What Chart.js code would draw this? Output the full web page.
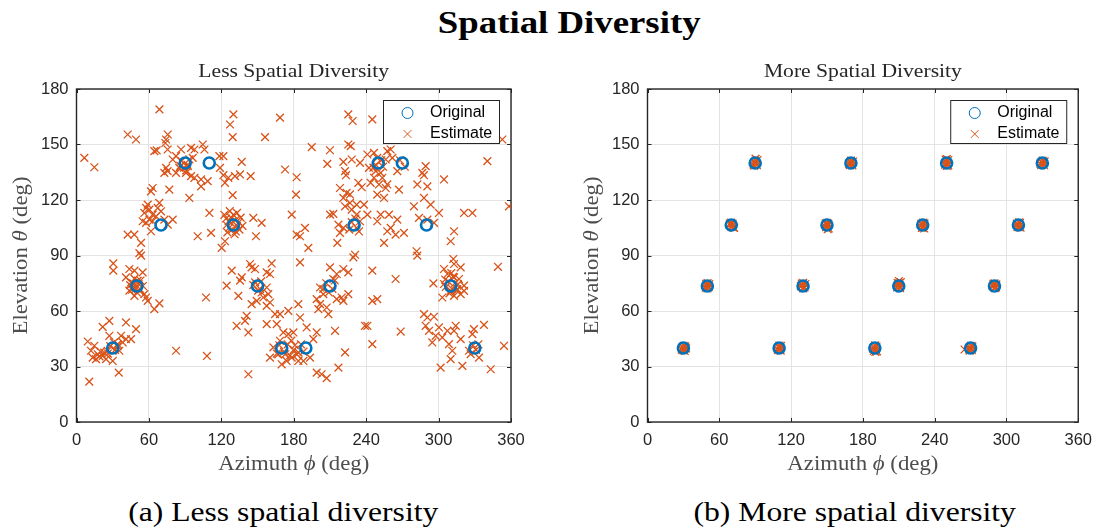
<!DOCTYPE html>
<html>
<head>
<meta charset="utf-8">
<script src="https://cdn.jsdelivr.net/npm/chart.js@4.4.0/dist/chart.umd.min.js"></script>
<style>
  body { margin: 0; background: #fff; width: 1101px; height: 527px; position: relative; overflow: hidden; }
  #title { position: absolute; top: 4px; left: 0; width: 1138px; text-align: center;
           font: bold 32px "Liberation Serif"; color: #000; }
  #title span, .cap span { display: inline-block; }
  #title span { transform: scaleX(1.15); }
  .cap { position: absolute; top: 496px; width: 560px; text-align: center;
         font: 28px "Liberation Serif"; color: #000; }
  .cap span { transform: scaleX(1.13); }
  canvas { position: absolute; top: 60px; }
</style>
</head>
<body>
<div id="title"><span>Spatial Diversity</span></div>
<canvas id="chart_less" width="540" height="420" style="left:0"></canvas>
<canvas id="chart_more" width="530" height="420" style="left:571px"></canvas>
<div class="cap" style="left:3px"><span>(a) Less spatial diversity</span></div>
<div class="cap" style="left:575px"><span>(b) More spatial diversity</span></div>

<script>
// axis ticks (deg)
var azTicks = [0, 60, 120, 180, 240, 300, 360];
var elTicks = [0, 30, 60, 90, 120, 150, 180];

// source directions [azimuth, elevation]
var lessOriginal = [
  [30, 40], [50, 73.5], [70, 106.5], [90, 140], [110, 140], [130, 106.5], [150, 73.5], [170, 40],
  [190, 40], [210, 73.5], [230, 106.5], [250, 140], [270, 140], [290, 106.5], [310, 73.5], [330, 40]
];
var moreOriginal = [
  [30, 40], [50, 73.5], [70, 106.5], [90, 140], [110, 40], [130, 73.5], [150, 106.5], [170, 140],
  [190, 40], [210, 73.5], [230, 106.5], [250, 140], [270, 40], [290, 73.5], [310, 106.5], [330, 140]
];

// estimated directions, closely spaced sources
var lessEstimate = [
  [68.7, 169], [42.4, 155.4], [49.3, 152.7], [6.5, 142.8], [14.8, 137.7], [75.6, 155.4], [74.2, 152.7], [73.6, 150.8],
  [64.5, 146.4], [66.4, 146.8], [75.5, 147.3], [86.6, 147.3], [82.5, 143.7], [79.7, 141.9], [94.9, 148.2], [97.7, 147.3],
  [104.6, 150], [106, 147.3], [96.3, 142.8], [92.1, 138.3], [85.2, 137.4], [74.2, 137.4], [75.5, 135.6], [72.8, 134.7],
  [82.5, 134.7], [90.7, 134.7], [97.7, 132], [94.9, 132.9], [103.2, 131.1], [108.7, 130.2], [103.2, 127.4], [118.4, 143.7],
  [76.9, 125.6], [63.1, 126.5], [61.7, 124.7], [93.5, 121.1], [110.1, 113], [59, 117.5], [57.6, 115.7], [60.4, 114.8],
  [56.2, 113], [63.1, 112.1], [68.6, 118.4], [67.3, 115.7], [70, 113.9], [65.9, 111.2], [60.4, 109.4], [63.1, 108.5],
  [57.6, 107.6], [72.8, 109.4], [79.7, 109.4], [75.6, 106.7], [54.8, 108.5], [61.7, 103.1], [42.4, 101.3], [47.9, 101.3],
  [53.5, 96.8], [100.4, 100.4], [111.5, 102.2], [52.1, 91.3],
  [87, 141], [92, 139], [89, 137.5], [93.5, 142], [86, 138.5], [91, 136],
  [130, 166.3], [127.2, 160.8], [129.4, 154], [168.6, 164.5], [156.2, 154], [121.7, 143.7], [136.9, 140.6], [118.9, 137.4],
  [121.7, 133.4], [125.8, 132], [131.3, 132.9], [135.5, 133.8], [123, 129.3], [144.3, 132.9], [172.8, 136.5], [182.4, 132.3],
  [181.9, 122.9], [129.4, 122.6], [194.9, 148.6], [210, 146.9], [207.8, 139.5], [225.2, 166.3], [228.8, 162.7], [225.2, 150],
  [227.2, 149.1], [221.1, 140.6], [228, 141.9], [234.9, 140.1], [222.5, 135.6], [223.3, 133.4], [233.5, 129.3], [236.3, 126.9],
  [218.3, 126.5], [223.8, 123.8], [221.1, 121.1], [226.6, 123], [226.6, 118.4], [232.1, 117.5], [222.5, 116.6], [228, 114.8],
  [210.1, 112.1], [212.8, 112.5], [217, 106.7], [221.1, 104.9], [218.3, 102.2], [234.9, 108.5], [232.1, 112.1], [146.5, 110.3],
  [153.4, 107.6], [148.7, 100.4], [123, 97.7], [120.3, 94.1], [178.3, 112.1], [182.4, 101.3], [189.3, 104.9], [185.2, 100.4],
  [192.1, 94.1], [216.1, 96.8], [230.8, 90.4],
  [228, 108], [232, 105], [226, 104], [231, 110], [234, 103],
  [126, 108.5], [128, 110.5], [131.5, 109], [133, 106], [129, 104], [126.5, 105], [132, 103], [134.5, 108],
  [124.5, 106.5], [130, 112], [136, 110.5], [124, 110], [131, 101.5], [128, 107.5], [135, 104], [122.5, 112],
  [127, 114], [133, 113], [137.5, 106], [125, 102.5],
  [245.1, 163.6], [352.8, 152.7], [241, 144.6], [246.5, 145.5], [249.2, 142.8], [257.5, 146.4], [260.3, 147.3], [256.2, 141.9],
  [261.7, 142.8], [242.3, 137.4], [247.9, 135.6], [252, 134.7], [246.5, 132], [253.4, 132], [243.7, 129.3], [250.6, 128.4],
  [257.5, 128.4], [256.2, 126.5], [249.2, 122.9], [254.8, 121.1], [265.8, 135.6], [267.2, 125.6], [289.3, 138.3], [286.5, 134.7],
  [287.9, 133.4], [282.4, 128.4], [290.7, 127.4], [304.5, 131.1], [340.4, 141], [287.9, 121.1], [293.4, 117.5], [279.6, 116.6],
  [300.3, 113], [321.1, 113], [328, 113], [358.3, 116.6], [238.2, 117.5], [241, 112.1], [252, 112.1], [249.2, 108.5],
  [258.9, 112.1], [265.8, 109.4], [260.3, 104.9], [264.4, 101.3], [271.3, 102.2], [257.5, 103.1], [254.8, 96.8], [312.8, 103.1],
  [310, 97.7], [296.2, 107.6], [283.8, 110.3], [290.7, 109.4], [281.8, 92.3],
  [248, 139], [252.5, 141.5], [246, 137.5], [254, 138], [268, 141.5], [272, 138],
  [53.5, 89.9], [30.5, 85.7], [30.5, 81.8], [43.8, 82.7], [48, 81.8], [54.8, 80.9], [41, 78.2], [45.2, 75.5],
  [50.7, 76.4], [46.6, 72.7], [43.8, 71], [52.1, 71], [56.2, 69.1], [48, 68.2], [57.6, 67.3], [59, 65.5],
  [68.7, 64.1], [64.5, 61], [107.3, 67.3], [27.2, 54.7], [21.7, 51.4], [41, 53.8], [49.3, 50.2], [9.3, 43.5],
  [14.8, 41.2], [12, 38.5], [17.6, 36.6], [21.7, 35.7], [25.8, 38.5], [16.2, 34], [13.4, 34.8], [24.5, 34],
  [30, 33], [27.2, 46.6], [36.9, 46.6], [38.3, 43], [41, 44.8], [45.2, 44.8], [34.1, 42.1], [35.5, 38.5],
  [35, 26.7], [10.6, 21.8], [82.5, 38.5], [108.1, 35.7],
  [47, 75], [49, 72], [51.5, 74.5], [53, 76.5], [46, 71.5], [52.5, 72], [48, 77.5], [55, 73.5], [44.5, 74], [50, 70],
  [28, 41], [32, 39], [26, 37], [31, 43], [34, 41], [23, 37.5], [19, 35.5], [20, 38],
  [128.6, 81.8], [145.1, 83.6], [147.9, 82.7], [143.8, 85.4], [161.7, 85.7], [157.6, 80.9], [160.3, 80], [136.9, 78.2],
  [135.5, 76.4], [124.4, 73.7], [157.6, 72.7], [158.9, 69.1], [153.4, 70], [154.8, 67.3], [149.3, 65.5], [145.1, 63.7],
  [160.3, 64.6], [157.6, 62.8], [134.1, 68.2], [141, 57.4], [139.6, 54.7], [132.7, 52], [142.4, 48.4], [164.5, 58.3],
  [168.6, 58.3], [175.5, 60.1], [157.6, 52.9], [165.9, 52.9], [171.4, 48.4], [175.5, 47.5], [179.7, 48.4], [168.6, 43.9],
  [163.1, 40.3], [160.3, 34.8], [167.2, 36.6], [172.8, 36.6], [174.1, 33], [178.3, 34.8], [182.4, 36.6], [183.8, 33],
  [188, 33], [193.5, 34.8], [170, 31.2], [183.8, 63.7], [185.2, 56.5], [190.7, 51.1], [199, 48.4], [196.2, 44.8],
  [142.4, 25.8], [199, 26.7], [203.1, 25.8], [207.3, 23.7], [217, 29.4], [222.5, 37.6], [214.2, 49.3], [185.2, 86.3],
  [210, 83.6], [221.1, 82.7], [225.2, 80.9], [215.6, 80], [229.4, 89], [212.8, 77.3], [201.8, 72.7], [204.5, 69.1],
  [199, 66.4], [215.6, 66.4], [219.7, 67.3], [221.1, 65.5], [225.2, 69.1], [200.4, 61], [207.3, 61.9], [208.7, 58.3],
  [201.8, 63.7], [239, 52],
  [148, 75.5], [152, 72], [150.5, 71], [153, 76], [146.5, 74],
  [168, 41.5], [172, 38], [175, 42], [180, 39], [184, 37.5], [178, 44], [186, 42], [166, 37], [177, 36], [181, 41.5], [188, 38],
  [207, 75], [212, 72], [209, 70], [214, 76.5], [204.5, 72],
  [282.4, 89.9], [312.2, 88.1], [312.8, 85.4], [304.5, 82.7], [318.3, 83.6], [307.3, 80], [312.8, 78.2], [316.9, 77.3],
  [310, 70.9], [315.5, 71.8], [321.1, 73.7], [321.1, 70.9], [304.5, 74.6], [318.3, 69.1], [312.8, 68.2], [303.1, 67.3],
  [295.7, 74.9], [349.2, 83.9], [245.1, 81.8], [264.4, 77.3], [245.1, 65.5], [249.2, 66.4], [241, 52], [268.6, 48.9],
  [245.1, 42.1], [287.9, 58.3], [290.7, 56.5], [296.2, 56.9], [289.3, 52], [292.1, 49.3], [297.6, 46.6], [300.3, 51.1],
  [303.1, 45.7], [294.8, 43], [307.3, 49.3], [312.8, 49.3], [314.2, 52], [318.3, 44.8], [308.6, 42.1], [311.4, 38.5],
  [310, 34], [301.7, 29.4], [319.7, 30.3], [329.3, 50.2], [328, 47.5], [337.6, 52.5], [326.6, 36.7], [333.5, 34.8],
  [325.2, 38.5], [343.2, 28.5], [354.2, 41.2],
  [308, 76], [311, 72], [313.5, 75], [306, 73], [315, 71], [309, 69.5], [312, 78.5], [316, 74.5], [305.5, 77], [310.5, 80.5],
  [331, 39], [328.5, 41.5], [333, 42]
];

// estimated directions, widely spaced sources
var moreEstimate = [
  [29.4, 40.3], [30.7, 39.6], [31.6, 40.9], [28.6, 39.1], [30.2, 41.2], [31.1, 38.4], [29.8, 38.9], [32.2, 39.8],
  [49.5, 73.8], [50.8, 72.9], [51.7, 74.6], [48.7, 72.6], [50.2, 75.1], [49.1, 74.7], [51.2, 73.2], [50.1, 72.2],
  [69.6, 106.9], [70.9, 106.1], [71.8, 105.2], [68.8, 107.3], [70.3, 105.4], [72.4, 104.9], [69.9, 107.8], [71.1, 107.2],
  [89.5, 140.4], [90.8, 139.5], [91.9, 141.6], [88.6, 139.2], [90.2, 141.2], [89.1, 138.6], [91.4, 138.9], [90.3, 142.4],
  [109.6, 40.4], [110.9, 39.5], [111.6, 41.1], [108.8, 39.2], [110.2, 41.3], [111.3, 38.6], [109.3, 38.8], [110.6, 40.1],
  [129.4, 73.9], [130.7, 73.1], [131.9, 74.6], [128.2, 73.4], [130.2, 72.2], [131.3, 72.7], [128.9, 74.8], [130.1, 75.2],
  [149.6, 106.8], [150.8, 105.9], [151.5, 104.6], [148.9, 107.4], [150.2, 107.6], [151.1, 107.1], [149.3, 105.3], [150.6, 104.2],
  [169.5, 140.3], [170.7, 139.6], [171.8, 140.8], [168.4, 139.7], [170.1, 141.3], [171.2, 138.7], [169.1, 138.8], [170.4, 140],
  [189.6, 40.3], [190.9, 39.4], [191.8, 38.2], [188.7, 39.6], [190.2, 41.4], [191.4, 40.8], [189.1, 38.4], [190.5, 37.9],
  [209.5, 73.8], [210.8, 73.1], [211.7, 75.6], [208.6, 72.7], [210.2, 74.9], [209, 75.1], [211.2, 72.4], [210.1, 76.2],
  [229.6, 106.8], [230.9, 106.1], [231.3, 104.6], [228.9, 107.2], [230.2, 105.2], [229.3, 104.9], [231.5, 107.4], [230.4, 107.8],
  [249.5, 140.4], [250.7, 139.5], [251.4, 141.6], [248.8, 139.1], [250.2, 142.1], [249.2, 141.8], [251.3, 138.7], [250.1, 138.4],
  [269.6, 40.3], [270.8, 39.6], [271.5, 40.9], [268.9, 39.3], [270.2, 41.2], [271.1, 38.8], [269.3, 38.6], [265, 39.2],
  [289.5, 73.9], [290.8, 73.1], [291.6, 74.4], [288.6, 73.4], [290.2, 72.4], [291.2, 72.8], [289.1, 74.7], [290.1, 74.9],
  [309.6, 106.8], [310.9, 106.1], [311.8, 105.1], [308.7, 107.2], [310.2, 105.3], [311.3, 107.6], [309.2, 105.4], [310.5, 107.9],
  [329.5, 140.4], [330.8, 139.5], [331.9, 140.9], [328.4, 139.6], [330.2, 141.3], [331.4, 138.8], [329.1, 138.9], [330.4, 140.1]
];

var blue = "#0072bd";
var orange = "#d95319";
var axisColor = "#262626";

function toPoints(list) {
  return list.map(function (p) { return { x: p[0], y: p[1] }; });
}

// serif text, stretched a little, with an italic greek letter in the middle
function drawLabel(ctx, parts, x, y, angle) {
  ctx.save();
  ctx.translate(x, y);
  ctx.rotate(angle);
  ctx.scale(1.14, 1);
  ctx.textBaseline = "middle";
  ctx.textAlign = "left";
  ctx.fillStyle = "#4d4d4d";
  var w = 0;
  parts.forEach(function (p) {
    ctx.font = (p.it ? "italic " : "") + "20px 'Liberation Serif'";
    w += ctx.measureText(p.t).width;
  });
  var cx = -w / 2;
  parts.forEach(function (p) {
    ctx.font = (p.it ? "italic " : "") + "20px 'Liberation Serif'";
    ctx.fillText(p.t, cx, 0);
    cx += ctx.measureText(p.t).width;
  });
  ctx.restore();
}

// box, inward ticks, legend and labels
const axesBox = {
  id: "axesBox",
  beforeDatasetsDraw: (chart) => {
    const { ctx, chartArea: a, scales: { x, y } } = chart;
    ctx.save();
    ctx.strokeStyle = axisColor;
    ctx.lineWidth = 1;
    ctx.beginPath();
    azTicks.forEach(function (v) {
      const px = Math.round(x.getPixelForValue(v)) + 0.5;
      ctx.moveTo(px, a.bottom); ctx.lineTo(px, a.bottom - 4);
      ctx.moveTo(px, a.top); ctx.lineTo(px, a.top + 4);
    });
    elTicks.forEach(function (v) {
      const py = Math.round(y.getPixelForValue(v)) + 0.5;
      ctx.moveTo(a.left, py); ctx.lineTo(a.left + 4, py);
      ctx.moveTo(a.right, py); ctx.lineTo(a.right - 4, py);
    });
    ctx.stroke();
    ctx.lineWidth = 1.4;
    ctx.strokeRect(a.left, a.top, a.right - a.left, a.bottom - a.top);
    ctx.restore();
  },
  afterDraw: (chart, args, opts) => {
    const { ctx, chartArea: a } = chart;
    ctx.save();
    // subplot title
    ctx.font = "18px 'Liberation Serif'";
    ctx.fillStyle = axisColor;
    ctx.textAlign = "center";
    ctx.textBaseline = "middle";
    ctx.save();
    ctx.translate((a.left + a.right) / 2, a.top - 17);
    ctx.scale(1.2, 1);
    ctx.fillText(opts.title, 0, 0);
    ctx.restore();

    // legend
    const bx = a.right - 128, by = a.top + 11;
    ctx.fillStyle = "#fff";
    ctx.fillRect(bx, by, 116, 43);
    ctx.strokeStyle = axisColor;
    ctx.lineWidth = 1;
    ctx.strokeRect(bx + 0.5, by + 0.5, 116, 43);
    ctx.strokeStyle = blue;
    Chart.helpers.drawPoint(ctx, { pointStyle: "circle", radius: 5.5, borderWidth: 2.6 }, bx + 24.5, by + 13);
    ctx.strokeStyle = orange;
    Chart.helpers.drawPoint(ctx, { pointStyle: "crossRot", radius: 5.5, borderWidth: 1.3 }, bx + 24.5, by + 34);
    ctx.fillStyle = "#000";
    ctx.font = "16px 'Liberation Sans'";
    ctx.textAlign = "left";
    ctx.fillText("Original", bx + 47, by + 13);
    ctx.fillText("Estimate", bx + 47, by + 34);
    ctx.restore();

    // axis titles
    drawLabel(ctx, [{ t: "Azimuth " }, { t: "ϕ", it: true }, { t: " (deg)" }], (a.left + a.right) / 2, a.bottom + 43, 0);
    drawLabel(ctx, [{ t: "Elevation " }, { t: "θ", it: true }, { t: " (deg)" }], 22, (a.top + a.bottom) / 2, -Math.PI / 2);
  },
};

function makeChart(id, original, estimate, title, rightPad) {
  return new Chart(document.getElementById(id), {
    type: "scatter",
    data: {
      datasets: [
        {
          label: "Original",
          data: toPoints(original),
          pointStyle: "circle",
          pointRadius: 5.5,
          borderWidth: 2.6,
          borderColor: blue,
          backgroundColor: "rgba(0,0,0,0)",
        },
        {
          label: "Estimate",
          data: toPoints(estimate),
          pointStyle: "crossRot",
          pointRadius: 5.5,
          borderWidth: 1.3,
          borderColor: orange,
          backgroundColor: orange,
        },
      ],
    },
    options: {
      responsive: false,
      animation: false,
      devicePixelRatio: 1,
      layout: { padding: { top: 29, right: rightPad, left: 0, bottom: 0 } },
      plugins: {
        legend: { display: false },
        tooltip: { enabled: false },
        axesBox: { title: title },
      },
      scales: {
        x: {
          type: "linear",
          min: 0,
          max: 360,
          afterBuildTicks: (s) => { s.ticks = azTicks.map((v) => ({ value: v })); },
          afterFit: (s) => { s.height = 58; },
          ticks: { padding: 9, color: axisColor, font: { family: "Liberation Sans", size: 16.5 } },
          grid: { color: "#e3e3e3", drawTicks: false },
          border: { display: false },
        },
        y: {
          min: 0,
          max: 180,
          afterBuildTicks: (s) => { s.ticks = elTicks.map((v) => ({ value: v })); },
          afterFit: (s) => { s.width = 76.5; },
          ticks: { padding: 8, color: axisColor, font: { family: "Liberation Sans", size: 16.5 } },
          grid: { color: "#e3e3e3", drawTicks: false },
          border: { display: false },
        },
      },
    },
    plugins: [axesBox],
  });
}

makeChart("chart_less", lessOriginal, lessEstimate, "Less Spatial Diversity", 29);
makeChart("chart_more", moreOriginal, moreEstimate, "More Spatial Diversity", 19);
</script>
</body>
</html>
